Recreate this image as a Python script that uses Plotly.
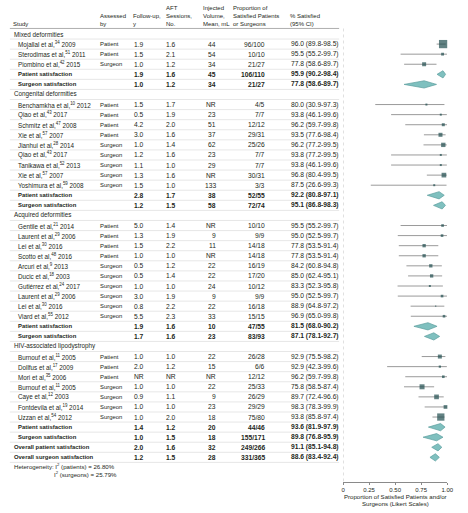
import plotly.graph_objects as go

W, H = 468, 513
FONT = "Liberation Sans, Arial, sans-serif"
TXT = "#231f20"

# ---------------- data ----------------
# kind: g = group heading, s = study, p = subgroup pooled, o = overall pooled
kind = ["g", "s", "s", "s", "p", "p",
        "g", "s", "s", "s", "s", "s", "s", "s", "s", "s", "p", "p",
        "g", "s", "s", "s", "s", "s", "s", "s", "s", "s", "s", "p", "p",
        "g", "s", "s", "s", "s", "s", "s", "s", "p", "p",
        "o", "o"]
study = ["Mixed deformities",
         "Mojallal et al,<sup>34</sup> 2009", "Sterodimas et al,<sup>51</sup> 2011", "Piombino et al,<sup>42</sup> 2015",
         "Patient satisfaction", "Surgeon satisfaction",
         "Congenital deformities",
         "Benchamkha et al,<sup>10</sup> 2012", "Qiao et al,<sup>43</sup> 2017", "Schmitz et al,<sup>47</sup> 2008",
         "Xie et al,<sup>57</sup> 2007", "Jianhui et al,<sup>28</sup> 2014", "Qiao et al,<sup>43</sup> 2017",
         "Tanikawa et al,<sup>52</sup> 2013", "Xie et al,<sup>57</sup> 2007", "Yoshimura et al,<sup>59</sup> 2008",
         "Patient satisfaction", "Surgeon satisfaction",
         "Acquired deformities",
         "Gentile et al,<sup>21</sup> 2014", "Laurent et al,<sup>29</sup> 2006", "Lei et al,<sup>30</sup> 2016",
         "Scotto et al,<sup>48</sup> 2016", "Arcuri et al,<sup>9</sup> 2013", "Ducic et al,<sup>18</sup> 2003",
         "Gutiérrez et al,<sup>24</sup> 2017", "Laurent et al,<sup>29</sup> 2006", "Lei et al,<sup>30</sup> 2016",
         "Viard et al,<sup>55</sup> 2012",
         "Patient satisfaction", "Surgeon satisfaction",
         "HIV-associated lipodystrophy",
         "Burnouf et al,<sup>11</sup> 2005", "Dollfus et al,<sup>17</sup> 2009", "Mori et al,<sup>35</sup> 2006",
         "Burnouf et al,<sup>11</sup> 2005", "Caye et al,<sup>12</sup> 2003", "Fontdevila et al,<sup>19</sup> 2014",
         "Uzzan et al,<sup>54</sup> 2012",
         "Patient satisfaction", "Surgeon satisfaction",
         "Overall patient satisfaction", "Overall surgeon satisfaction"]
assessed = ["", "Patient", "Patient", "Surgeon", "", "",
            "", "Patient", "Patient", "Patient", "Patient", "Surgeon", "Surgeon", "Surgeon", "Surgeon", "Surgeon", "", "",
            "", "Patient", "Patient", "Patient", "Patient", "Surgeon", "Surgeon", "Surgeon", "Surgeon", "Surgeon", "Surgeon", "", "",
            "", "Patient", "Patient", "Patient", "Surgeon", "Surgeon", "Surgeon", "Surgeon", "", "",
            "", ""]
follow_up = ["", "1.9", "1.5", "1.0", "1.9", "1.0",
             "", "1.5", "0.5", "4.2", "3.0", "1.0", "1.2", "1.1", "1.3", "1.5", "2.8", "1.2",
             "", "5.0", "1.3", "1.5", "1.0", "0.5", "0.5", "1.0", "3.0", "0.8", "5.5", "1.9", "1.7",
             "", "1.0", "2.0", "NR", "1.0", "0.9", "1.0", "1.0", "1.4", "1.0",
             "2.0", "1.2"]
sessions = ["", "1.6", "2.1", "1.2", "1.6", "1.2",
            "", "1.7", "1.9", "2.0", "1.6", "1.4", "1.6", "1.0", "1.6", "1.0", "1.7", "1.5",
            "", "1.4", "1.9", "2.2", "1.0", "1.2", "1.4", "1.0", "1.9", "2.2", "2.3", "1.6", "1.6",
            "", "1.0", "1.2", "NR", "1.0", "1.1", "1.0", "2.0", "1.2", "1.5",
            "1.6", "1.5"]
volume = ["", "44", "54", "34", "45", "34",
          "", "NR", "23", "51", "37", "62", "23", "29", "NR", "133", "38", "58",
          "", "NR", "9", "11", "NR", "22", "22", "24", "9", "22", "33", "10", "23",
          "", "22", "15", "NR", "22", "9", "23", "18", "20", "18",
          "32", "28"]
proportion = ["", "96/100", "10/10", "21/27", "106/110", "21/27",
              "", "4/5", "7/7", "12/12", "29/31", "25/26", "7/7", "7/7", "30/31", "3/3", "52/55", "72/74",
              "", "10/10", "9/9", "14/18", "14/18", "16/19", "17/20", "10/12", "9/9", "16/18", "15/15", "47/55", "83/93",
              "", "26/28", "6/6", "12/12", "25/33", "26/29", "29/29", "75/80", "44/46", "155/171",
              "249/266", "331/365"]
ci_text = ["", "96.0 (89.8-98.5)", "95.5 (55.2-99.7)", "77.8 (58.6-89.7)", "95.9 (90.2-98.4)", "77.8 (58.6-89.7)",
           "", "80.0 (30.9-97.3)", "93.8 (46.1-99.6)", "96.2 (59.7-99.8)", "93.5 (77.6-98.4)", "96.2 (77.2-99.5)",
           "93.8 (77.2-99.5)", "93.8 (46.1-99.6)", "96.8 (80.4-99.5)", "87.5 (26.6-99.3)", "92.2 (80.8-97.1)",
           "95.1 (86.8-98.3)",
           "", "95.5 (55.2-99.7)", "95.0 (52.5-99.7)", "77.8 (53.5-91.4)", "77.8 (53.5-91.4)", "84.2 (60.8-94.8)",
           "85.0 (62.4-95.1)", "83.3 (52.3-95.8)", "95.0 (52.5-99.7)", "88.9 (64.8-97.2)", "96.9 (65.0-99.8)",
           "81.5 (68.0-90.2)", "87.1 (78.1-92.7)",
           "", "92.9 (75.5-98.2)", "92.9 (42.3-99.6)", "96.2 (59.7-99.8)", "75.8 (58.5-87.4)", "89.7 (72.4-96.6)",
           "98.3 (78.3-99.9)", "93.8 (85.8-97.4)", "93.6 (81.9-97.9)", "89.8 (76.8-95.9)",
           "91.1 (85.1-94.8)", "88.6 (83.4-92.4)"]
estimate = [None, 96.0, 95.5, 77.8, 95.9, 77.8,
            None, 80.0, 93.8, 96.2, 93.5, 96.2, 93.8, 93.8, 96.8, 87.5, 92.2, 95.1,
            None, 95.5, 95.0, 77.8, 77.8, 84.2, 85.0, 83.3, 95.0, 88.9, 96.9, 81.5, 87.1,
            None, 92.9, 92.9, 96.2, 75.8, 89.7, 98.3, 93.8, 93.6, 89.8,
            91.1, 88.6]
ci_low = [None, 89.8, 55.2, 58.6, 90.2, 58.6,
          None, 30.9, 46.1, 59.7, 77.6, 77.2, 46.1, 46.1, 80.4, 26.6, 80.8, 86.8,
          None, 55.2, 52.5, 53.5, 53.5, 60.8, 62.4, 52.3, 52.5, 64.8, 65.0, 68.0, 78.1,
          None, 75.5, 42.3, 59.7, 58.5, 72.4, 78.3, 85.8, 81.9, 76.8,
          85.1, 83.4]
ci_high = [None, 98.5, 99.7, 89.7, 98.4, 89.7,
           None, 97.3, 99.6, 99.8, 98.4, 99.5, 99.6, 99.6, 99.5, 99.3, 97.1, 98.3,
           None, 99.7, 99.7, 91.4, 91.4, 94.8, 95.1, 95.8, 99.7, 97.2, 99.8, 90.2, 92.7,
           None, 98.2, 99.6, 99.8, 87.4, 96.6, 99.9, 97.4, 97.9, 95.9,
           94.8, 92.4]
# relative study weights (read from square areas)
weight = [None, 68, 8, 16, None, None,
          None, 4, 4, 9, 16, 19, 4, 4, 22, 4, None, None,
          None, 7, 7, 11, 11, 11, 11, 4, 7, 1, 7, None, None,
          None, 16, 5, 7, 25, 22, 14, 53, None, None,
          None, None]
x_ticks = [0, 0.25, 0.50, 0.75, 1.00]
x_tick_labels = ["0", "0.25", "0.50", "0.75", "1.00"]
headers = [(10.7, ["Study"]),
           (99.3, ["Assessed", "by"]),
           (133.3, ["Follow-up,", "y"]),
           (166.7, ["AFT", "Sessions,", "No."]),
           (205, ["Injected", "Volume,", "Mean, mL"]),
           (235, ["Proportion of", "Satisfied Patients", "or Surgeons"]),
           (293.3, ["% Satisfied", "(95% CI)"])]
axis_title = ["Proportion of Satisfied Patients and/or", "Surgeons (Likert Scales)"]
heterogeneity = ["Heterogeneity: I<sup>2</sup> (patients) = 26.80%", "I<sup>2</sup> (surgeons) = 25.79%"]

# ---------------- layout geometry ----------------
ROW0, PITCH = 34.0, 10.08
AX_PX = 481.7
X0_PX, X1_PX = 347.0, 453.0
N = len(kind)
y_top = (0 - ROW0) / PITCH
y_bot = (AX_PX - ROW0) / PITCH
dom_bottom = (H - AX_PX) / H

fig = go.Figure()

# CI lines for studies
lx, ly = [], []
for i in range(N):
    if kind[i] == "s":
        lx += [ci_low[i] / 100, ci_high[i] / 100, None]
        ly += [i, i, None]
fig.add_trace(go.Scatter(x=lx, y=ly, mode="lines", line=dict(color="#9a9a9a", width=1),
                         hoverinfo="skip", showlegend=False, cliponaxis=False))

# squares
sx = [estimate[i] / 100 for i in range(N) if kind[i] == "s"]
sy = [i for i in range(N) if kind[i] == "s"]
ss = [max(1.2, weight[i] ** 0.5) for i in range(N) if kind[i] == "s"]
fig.add_trace(go.Scatter(x=sx, y=sy, mode="markers",
                         marker=dict(symbol="square", size=ss, color="#1f4d4e", line=dict(width=0)),
                         showlegend=False, cliponaxis=False))

# diamonds
dx, dy = [], []
HH = 0.36
for i in range(N):
    if kind[i] in ("p", "o"):
        dx += [ci_low[i] / 100, estimate[i] / 100, ci_high[i] / 100, estimate[i] / 100, ci_low[i] / 100, None]
        dy += [i, i - HH, i, i + HH, i, None]
fig.add_trace(go.Scatter(x=dx, y=dy, mode="lines", fill="toself", fillcolor="#7fc0bf",
                         line=dict(color="#5b9e9d", width=0.7), hoverinfo="skip",
                         showlegend=False, cliponaxis=False))

ann = []
def add_text(xpx, yrow, text, anchor="left", bold=False, size=6.0, color=TXT):
    t = f"<b>{text}</b>" if bold else text
    ann.append(dict(x=xpx / W, y=yrow, xref="paper", yref="y", text=t, showarrow=False,
                    xanchor=anchor, yanchor="middle", borderpad=0, borderwidth=0,
                    font=dict(family=FONT, size=size, color=color)))

NAME_SZ, BOLD_NAME_SZ, NUM_SZ, HDR_SZ = 6.3, 5.9, 6.7, 6.0
for i in range(N):
    k = kind[i]
    b = k in ("p", "o")
    name_x = 12 if k in ("g", "o") else 16
    add_text(name_x, i, study[i], bold=b, size=BOLD_NAME_SZ if b else NAME_SZ)
    if assessed[i]:
        add_text(99.5, i, assessed[i], size=5.9)
    if follow_up[i]:
        add_text(134, i, follow_up[i], bold=b, size=NUM_SZ)
    if sessions[i]:
        add_text(167, i, sessions[i], bold=b, size=NUM_SZ)
    if volume[i]:
        add_text(218, i, volume[i], anchor="right", bold=b, size=NUM_SZ)
    if proportion[i]:
        add_text(268, i, proportion[i], anchor="right", bold=b, size=NUM_SZ)
    if ci_text[i]:
        add_text(294, i, ci_text[i], bold=b, size=NUM_SZ)

hdr_rows = [-2.55, -1.79, -1.0]
for xpx, lines in headers:
    offs = hdr_rows[3 - len(lines):]
    for line, yr in zip(lines, offs):
        add_text(xpx, yr, line, size=HDR_SZ)

add_text(12, (466 - ROW0) / PITCH, heterogeneity[0], size=6.1)
add_text(52.5, (474.3 - ROW0) / PITCH, heterogeneity[1], size=6.1)

for line, ypx in zip(axis_title, [496, 503.5]):
    ann.append(dict(x=(X0_PX + X1_PX) / 2 / W, y=1 - ypx / H, xref="paper", yref="paper", text=line,
                    showarrow=False, xanchor="center", yanchor="middle", borderpad=0, borderwidth=0,
                    font=dict(family=FONT, size=6.1, color=TXT)))

shapes = []
# header rule
shapes.append(dict(type="line", xref="paper", yref="y", x0=8 / W, x1=343 / W, y0=-0.55, y1=-0.55,
                   line=dict(color="#9a9a9a", width=0.8)))
for i in range(N):
    shapes.append(dict(type="line", xref="paper", yref="y", x0=8 / W, x1=343 / W, y0=i + 0.5, y1=i + 0.5,
                       line=dict(color="#dcdcdc", width=0.7)))
shapes.append(dict(type="line", xref="x", yref="y", x0=0, x1=0, y0=-0.55, y1=y_bot,
                   line=dict(color="#b8b8b8", width=0.8, dash="dot")))

fig.update_layout(
    width=W, height=H, margin=dict(l=0, r=0, t=0, b=0),
    paper_bgcolor="white", plot_bgcolor="white", showlegend=False,
    annotations=ann, shapes=shapes,
    xaxis=dict(domain=[X0_PX / W, X1_PX / W], range=[0, 1], tickvals=x_ticks, ticktext=x_tick_labels,
               showgrid=False, zeroline=False, showline=True, linecolor="#8a8a8a", linewidth=0.8,
               ticks="outside", ticklen=2, tickcolor="#8a8a8a", tickwidth=0.8,
               tickfont=dict(family=FONT, size=6.0, color=TXT), fixedrange=True),
    yaxis=dict(domain=[dom_bottom, 1], range=[y_bot, y_top], visible=False, fixedrange=True),
)

fig.write_html("out.html", config={"displayModeBar": False},
               post_script="document.body.style.margin='0';document.body.style.padding='0';")
